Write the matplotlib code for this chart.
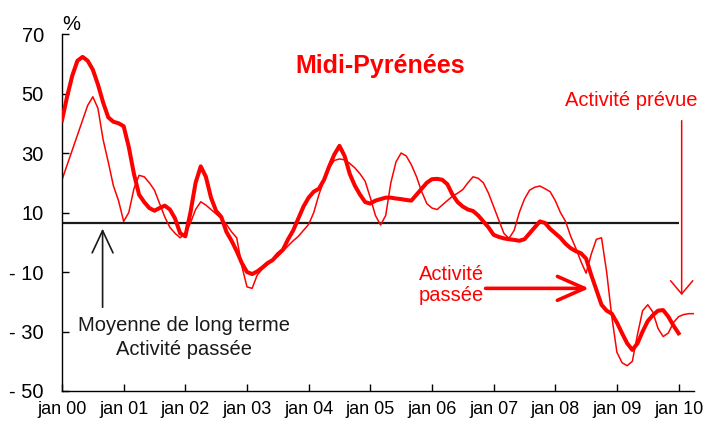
import numpy as np
import matplotlib
matplotlib.use('Agg')
import matplotlib.pyplot as plt

#---    Data (monthly, jan 2000 = month 0)
passee = [41, 49, 56, 61, 62.3, 61, 58, 53, 47, 42, 40.5, 40,
          39, 32, 23, 16, 13.5, 11.5, 10.6, 11.5, 12.3, 11, 8, 3,
          2, 10, 20, 25.5, 22, 15, 10.5, 8.5, 3.5, 0.5, -3, -7,
          -10, -10.7, -9.8, -8.5, -7, -6, -4, -2.5, 1, 4, 8, 12,
          15, 17, 18, 21, 25.5, 29.5, 32.4, 29, 23, 19, 16, 13.5,
          13, 14, 14.5, 15, 15, 14.7, 14.5, 14.2, 14, 16, 18, 20,
          21.2, 21.3, 21, 19.5, 16, 13.5, 12, 11, 10.5, 9, 7, 5,
          2.5, 1.8, 1.3, 1, 0.8, 0.5, 1, 3, 5, 7, 6.5, 4.5,
          3, 1.5, -0.5, -2, -3, -3.7, -5.5, -11, -16, -21, -23, -24,
          -27, -30.6, -34, -36.2, -34, -30, -26.5, -24.5, -23, -22.8, -25, -28,
          -30.6]
prevue = [21, 26, 31, 36, 41, 46, 48.9, 45, 34.5, 27, 19, 14,
          7, 10, 18, 22.5, 22, 20, 17.5, 13, 8.5, 5, 3, 1.5,
          3, 6.5, 11, 13.6, 12.5, 11, 9.5, 8, 6, 3.5, 1.5, -8,
          -15, -15.5, -11, -9, -7.5, -6, -4.8, -3, -1.2, 0.5, 2, 4,
          6, 10, 16, 21, 25, 27.5, 28, 27.7, 26.5, 25, 23, 20.5,
          15, 9, 5.8, 9, 20, 27, 30, 29, 26, 22, 17, 13,
          11.5, 11, 12.5, 14, 15.5, 16.5, 17.7, 20, 22, 21.5, 20, 16.5,
          12, 7.5, 3, 1.3, 4, 10, 14.5, 17.5, 18.5, 18.9, 18, 17,
          14, 10, 7, 2, -2, -6.5, -10.4, -4, 1, 1.5, -10, -25,
          -37, -40.5, -41.5, -40, -31, -23, -21, -23.5, -29, -31.7, -30.5, -27,
          -25, -24.3, -24, -24]
moyenne = 6.6

years = ['00', '01', '02', '03', '04', '05', '06', '07', '08', '09', '10']
xlabels = ['jan ' + y for y in years]
yticks = [70, 50, 30, 10, -10, -30, -50]
ylabels = [str(v) if v > 0 else '- ' + str(-v) for v in yticks]

m_passee = np.arange(len(passee))
m_prevue = np.arange(len(prevue))

red = '#FF0000'
fs = 14.5
plt.rcParams['font.family'] = ['Liberation Sans', 'DejaVu Sans']

fig = plt.figure(figsize=(7.05, 4.25), dpi=100)
ax = fig.add_axes([62/705, 1 - 391/425, (694 - 62)/705, (391 - 34)/425])

ax.hlines(moyenne, m_passee[0], m_passee[-1], color='#1a1a1a', linewidth=1.6, zorder=1)
ax.plot(m_prevue, prevue, color=red, linewidth=1.1, zorder=2)
ax.plot(m_passee, passee, color=red, linewidth=2.9, zorder=3)

ax.set_xlim(0, 123)
ax.set_ylim(-50, 70)
ax.set_xticks(np.arange(0, 121, 12))
ax.set_xticklabels(xlabels, fontsize=13)
ax.set_yticks(yticks)
ax.set_yticklabels(ylabels, fontsize=fs)
ax.tick_params(axis='x', direction='in', length=5, width=1, pad=7)
ax.tick_params(axis='y', direction='in', length=5, width=1, pad=13)
for s in ['top', 'right']:
    ax.spines[s].set_visible(False)
for s in ['left', 'bottom']:
    ax.spines[s].set_linewidth(1)

#---    Texts
ax.text(0, 1.0, '%', transform=ax.transAxes, fontsize=fs, ha='left', va='bottom')
ax.text(62, 56.9, 'Midi-Pyrénées', color=red, fontsize=18, weight='bold', ha='center', va='baseline')
ax.text(97.9, 47.8, 'Activité prévue', color=red, fontsize=fs, ha='left', va='center')
ax.text(69.5, -14.3, 'Activité\npassée', color=red, fontsize=fs, ha='left', va='center', linespacing=1.15)
ax.text(23.7, -32, 'Moyenne de long terme\nActivité passée', color='#1a1a1a', fontsize=fs,
        ha='center', va='center', multialignment='center', linespacing=1.3)

#---    Arrows
ax.annotate('', xy=(7.9, 5.5), xytext=(7.9, -22.8),
            arrowprops=dict(arrowstyle='->,head_length=1.6,head_width=0.75', color='#1a1a1a', lw=1.2))
ax.annotate('', xy=(103.1, -15.5), xytext=(81.9, -15.5),
            arrowprops=dict(arrowstyle='->,head_length=1.95,head_width=0.86', color=red, lw=2.6))
ax.annotate('', xy=(120.6, -18.7), xytext=(120.6, 41.8),
            arrowprops=dict(arrowstyle='->,head_length=0.95,head_width=0.8', color=red, lw=1.1))

plt.savefig('out.png', dpi=100)
